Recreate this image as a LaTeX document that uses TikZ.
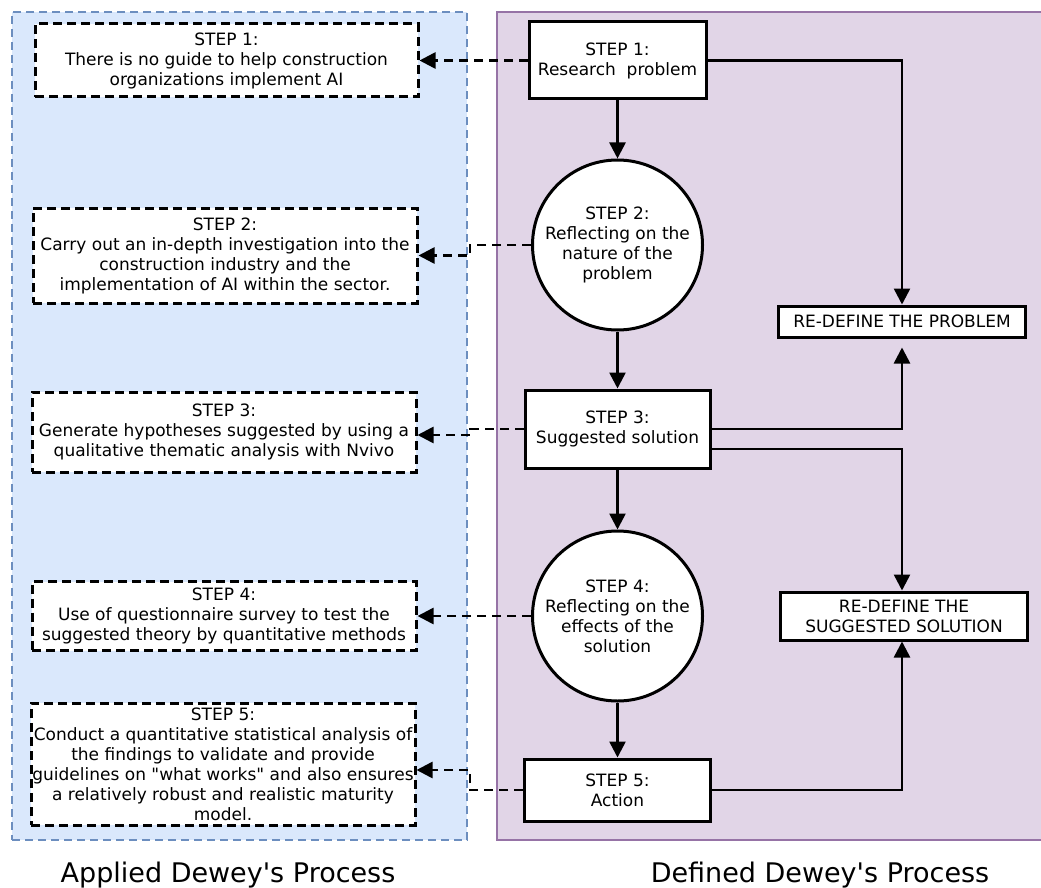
\documentclass[tikz,border=0pt]{standalone}
\usepackage{fontspec}
\setmainfont{DejaVu Sans}
\usetikzlibrary{arrows.meta}
\definecolor{bluefill}{HTML}{DAE8FC}
\definecolor{blueline}{HTML}{6C8EBF}
\definecolor{purplefill}{HTML}{E1D5E7}
\definecolor{purpleline}{HTML}{9673A6}
\begin{document}
\begin{tikzpicture}[x=1pt,y=-1pt,
  txt/.style={font=\fontsize{17}{20}\selectfont, align=center, text=black},
  solidbox/.style={txt, draw=black, line width=3pt, fill=white, inner sep=0pt},
  dashbox/.style={txt, draw=black, line width=3pt, dash pattern=on 9pt off 5pt, fill=white, inner sep=0pt},
  stepcircle/.style={txt, circle, draw=black, line width=3pt, fill=white, minimum size=170pt, inner sep=0pt},
  flow/.style={line width=2.6pt, -{Triangle[length=16pt,width=16pt]}},
  link/.style={line width=2.6pt, dash pattern=on 9pt off 6pt, -{Triangle[length=16pt,width=16pt]}},
  panel/.style={inner sep=0pt, line width=2.4pt},
  caption/.style={font=\fontsize{27}{32}\selectfont, anchor=base}
]
\useasboundingbox (0,0) rectangle (1041,888);
\clip (0,0) rectangle (1041,888);

% the two process panels
\node[panel, fill=bluefill, draw=blueline, dash pattern=on 8pt off 5pt,
      minimum width=455pt, minimum height=828pt] (applied) at (239.5,426) {};
\node[panel, fill=purplefill, draw=purpleline,
      minimum width=560pt, minimum height=828pt] (defined) at (777,426) {};

% applied process steps
\node[dashbox, minimum width=383pt, minimum height=73pt] (b1) at (226.5,60.5)
  {STEP 1:\\There is no guide to help construction\\organizations implement AI};
\node[dashbox, minimum width=384pt, minimum height=95pt] (b2) at (225,255.5)
  {STEP 2:\\Carry out an in-depth investigation into the\\construction industry and the\\implementation of AI within the sector.};
\node[dashbox, minimum width=384pt, minimum height=80pt] (b3) at (224,432)
  {STEP 3:\\Generate hypotheses suggested by using a\\qualitative thematic analysis with Nvivo};
\node[dashbox, minimum width=384pt, minimum height=69pt] (b4) at (224,616)
  {STEP 4:\\Use of questionnaire survey to test the\\suggested theory by quantitative methods};
\node[dashbox, minimum width=384pt, minimum height=122pt] (b5) at (223,764)
  {STEP 5:\\Conduct a quantitative statistical analysis of\\the findings to validate and provide\\guidelines on \textquotedbl what works\textquotedbl\ and also ensures\\a relatively robust and realistic maturity\\model.};

% defined process steps
\node[solidbox, minimum width=177pt, minimum height=77pt] (s1) at (617.5,60.5)
  {STEP 1:\\Research\ \ problem};
\node[stepcircle] (c2) at (617.5,245)
  {STEP 2:\\Reflecting on the\\nature of the\\problem};
\node[solidbox, minimum width=185pt, minimum height=78pt] (s3) at (617.5,429)
  {STEP 3:\\Suggested solution};
\node[stepcircle] (c4) at (617.5,616)
  {STEP 4:\\Reflecting on the\\effects of the\\solution};
\node[solidbox, minimum width=186pt, minimum height=62pt] (s5) at (617.5,790)
  {STEP 5:\\Action};
\node[solidbox, minimum width=247pt, minimum height=31pt] (rp) at (902,321.5)
  {RE-DEFINE THE PROBLEM};
\node[solidbox, minimum width=247pt, minimum height=48pt] (rs) at (904,616)
  {RE-DEFINE THE\\SUGGESTED SOLUTION};

% panel captions
\node[caption] (capA) at (228,882) {Applied Dewey\textquotesingle s Process};
\node[caption] (capD) at (820,882) {Defined Dewey\textquotesingle s Process};

% main flow
\draw[flow] (s1.south) -- (c2.north);
\draw[flow] (c2.south) -- (s3.north);
\draw[flow] (s3.south) -- (c4.north);
\draw[flow] (c4.south) -- (s5.north);
\coordinate (rx) at (902,0);
\draw[flow] (s1.east) -| (rp.north);
\draw[flow] (s3.east) -| ([yshift=-9pt]rp.south -| rx);
\draw[flow] ([yshift=-20pt]s3.east) -| (rs.north -| rx);
\draw[flow] (s5.east) -| (rs.south -| rx);

% links to the applied steps
\coordinate (jx) at (470,0);
\draw[link] (s1.west) -- (b1.east);
\draw[link] (c2.west) -- (c2.west -| jx) |- (b2.east);
\draw[link] (s3.west) -- (s3.west -| jx) |- ([yshift=-3pt]b3.east);
\draw[link] (c4.west) -- (b4.east);
\draw[link] (s5.west) -- (s5.west -| jx) |- ([yshift=-6pt]b5.east);
\end{tikzpicture}
\end{document}
